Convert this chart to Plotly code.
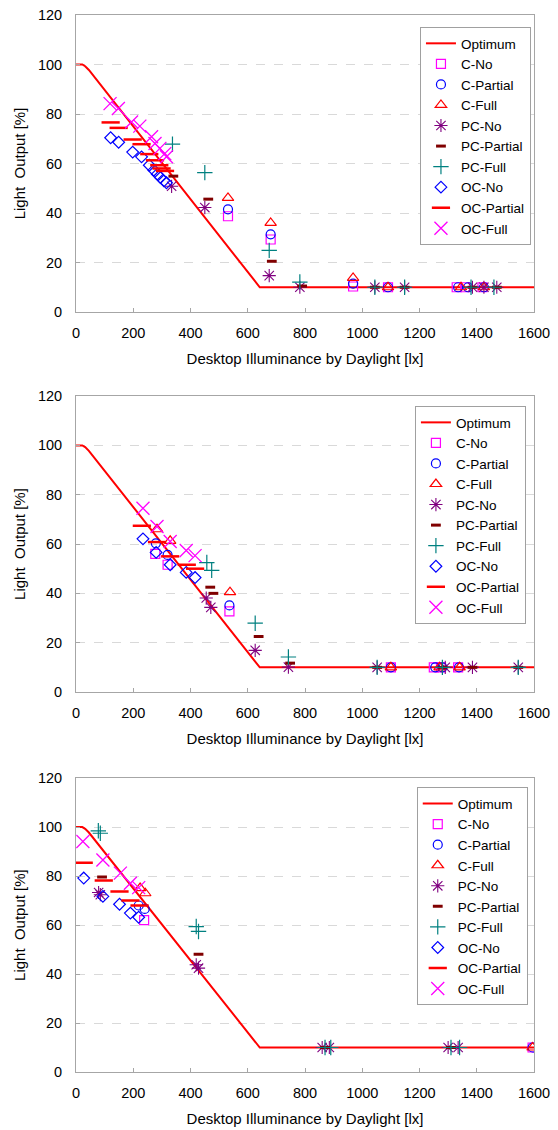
import plotly.graph_objects as go
from plotly.subplots import make_subplots

# ---------------- data ----------------
opt_x = [0, 22, 32, 45, 642, 1600]
opt_y = [100, 100, 99.3, 97.8, 10, 10]

series_names = ["C-No", "C-Partial", "C-Full", "PC-No", "PC-Partial", "PC-Full",
                "OC-No", "OC-Partial", "OC-Full"]

# Panel 1
p1_c_no_x = [531, 680, 968, 1090, 1330, 1360, 1420]
p1_c_no_y = [38.7, 29.3, 10.3, 10, 10, 10, 10]
p1_c_partial_x = [531, 680, 968, 1090, 1335, 1370, 1425]
p1_c_partial_y = [41.5, 31.4, 11.5, 10, 10, 10, 10]
p1_c_full_x = [531, 680, 968, 1090, 1345, 1425]
p1_c_full_y = [46.1, 36.0, 13.8, 10, 10, 10]
p1_pc_no_x = [334, 450, 675, 782, 1044, 1148, 1385, 1425, 1470]
p1_pc_no_y = [50.8, 42.2, 14.7, 10, 10, 10, 10, 10, 10]
p1_pc_partial_x = [340, 462, 684, 790, 1044, 1148, 1385, 1470]
p1_pc_partial_y = [54.9, 45.6, 20.5, 10.5, 10, 10, 10, 10]
p1_pc_full_x = [337, 450, 675, 782, 1044, 1148, 1380, 1460]
p1_pc_full_y = [67.8, 56.3, 24.9, 12.1, 10, 10, 10, 10]
p1_oc_no_x = [121, 149, 198, 229, 256, 272, 284, 295, 307, 316]
p1_oc_no_y = [70.4, 68.6, 64.6, 62.7, 59.3, 57.3, 55.7, 54.3, 53.0, 52.2]
p1_oc_partial_x = [121, 149, 198, 229, 256, 276, 291, 299, 311]
p1_oc_partial_y = [76.6, 74.4, 69.7, 67.8, 63.8, 61.3, 59.3, 58, 57]
p1_oc_full_x = [119, 148, 194, 223, 264, 276, 293, 310, 316]
p1_oc_full_y = [84.2, 82.2, 76.8, 75.1, 70.8, 68.1, 66.1, 64, 62.7]

# Panel 2
p2_c_no_x = [277, 320, 536, 1100, 1250, 1275, 1335]
p2_c_no_y = [56, 51.6, 32.7, 10, 10, 10, 10]
p2_c_partial_x = [279, 320, 536, 1100, 1255, 1280, 1338]
p2_c_partial_y = [60.3, 55.6, 35.1, 10, 10, 10, 10]
p2_c_full_x = [283, 329, 538, 1100, 1270, 1340]
p2_c_full_y = [66, 61.3, 40.5, 10, 10, 10]
p2_pc_no_x = [455, 471, 626, 742, 1052, 1290, 1385, 1545]
p2_pc_no_y = [38.1, 34.3, 16.9, 10.1, 10, 10, 10, 10]
p2_pc_partial_x = [469, 480, 638, 748, 1052, 1280, 1385, 1545]
p2_pc_partial_y = [42.5, 40, 22.5, 11.7, 10, 10, 10, 10]
p2_pc_full_x = [457, 474, 626, 742, 1052, 1280, 1545]
p2_pc_full_y = [52.5, 49.3, 27.9, 14.2, 10, 10, 10]
p2_oc_no_x = [234, 280, 329, 385, 416]
p2_oc_no_y = [62.1, 56.6, 51.6, 48.5, 46.4]
p2_oc_partial_x = [230, 283, 329, 387, 416]
p2_oc_partial_y = [67.4, 60.8, 55, 51.6, 50]
p2_oc_full_x = [234, 283, 329, 385, 416]
p2_oc_full_y = [74.5, 67.1, 61, 57.4, 55.3]

# Panel 3
p3_c_no_x = [238, 1595]
p3_c_no_y = [62, 10]
p3_c_partial_x = [219, 240, 1595]
p3_c_partial_y = [68, 66.6, 10]
p3_c_full_x = [224, 242, 1595]
p3_c_full_y = [75.1, 73, 10]
p3_pc_no_x = [79, 85, 420, 428, 860, 885, 1300, 1335]
p3_pc_no_y = [73.3, 72.4, 43.8, 42.4, 10, 10, 10, 10]
p3_pc_partial_x = [91, 428, 870, 1310]
p3_pc_partial_y = [79.6, 48.1, 10, 10]
p3_pc_full_x = [78, 85, 420, 428, 870, 890, 1310, 1340]
p3_pc_full_y = [98.5, 97.5, 59.4, 57.4, 10, 10, 10, 10]
p3_oc_no_x = [27, 94, 152, 190, 219]
p3_oc_no_y = [79.2, 71.7, 68.5, 64.9, 63.2]
p3_oc_partial_x = [27, 97, 152, 190, 222]
p3_oc_partial_y = [85.5, 78.2, 73.7, 70, 68]
p3_oc_full_x = [24, 94, 155, 190, 219]
p3_oc_full_y = [94.1, 86.6, 81.2, 77.1, 75.3]

x_ticks = [0, 200, 400, 600, 800, 1000, 1200, 1400, 1600]
y_ticks = [0, 20, 40, 60, 80, 100, 120]

panels = [
    [(p1_c_no_x, p1_c_no_y), (p1_c_partial_x, p1_c_partial_y), (p1_c_full_x, p1_c_full_y),
     (p1_pc_no_x, p1_pc_no_y), (p1_pc_partial_x, p1_pc_partial_y), (p1_pc_full_x, p1_pc_full_y),
     (p1_oc_no_x, p1_oc_no_y), (p1_oc_partial_x, p1_oc_partial_y), (p1_oc_full_x, p1_oc_full_y)],
    [(p2_c_no_x, p2_c_no_y), (p2_c_partial_x, p2_c_partial_y), (p2_c_full_x, p2_c_full_y),
     (p2_pc_no_x, p2_pc_no_y), (p2_pc_partial_x, p2_pc_partial_y), (p2_pc_full_x, p2_pc_full_y),
     (p2_oc_no_x, p2_oc_no_y), (p2_oc_partial_x, p2_oc_partial_y), (p2_oc_full_x, p2_oc_full_y)],
    [(p3_c_no_x, p3_c_no_y), (p3_c_partial_x, p3_c_partial_y), (p3_c_full_x, p3_c_full_y),
     (p3_pc_no_x, p3_pc_no_y), (p3_pc_partial_x, p3_pc_partial_y), (p3_pc_full_x, p3_pc_full_y),
     (p3_oc_no_x, p3_oc_no_y), (p3_oc_partial_x, p3_oc_partial_y), (p3_oc_full_x, p3_oc_full_y)],
]

# ---------------- styles ----------------
styles = [
    dict(symbol="square-open", color="#FF00FF", size=9, lw=1.2),
    dict(symbol="circle-open", color="#0000FF", size=9, lw=1.2),
    dict(symbol="triangle-up-open", color="#FF0000", size=10, lw=1.2),
    dict(symbol="asterisk-open", color="#800080", size=11, lw=1.1),
    dict(symbol="line-ew-open", color="#800000", size=7, lw=3),
    dict(symbol="cross-thin-open", color="#008080", size=11, lw=1.2),
    dict(symbol="diamond-open", color="#0000FF", size=9, lw=1.2),
    dict(symbol="line-ew-open", color="#FF0000", size=13, lw=2.5),
    dict(symbol="x-thin-open", color="#FF00FF", size=13, lw=1.3),
]

fig = make_subplots(rows=3, cols=1)

legend_ids = ["legend", "legend2", "legend3"]
for r, pdata in enumerate(panels, start=1):
    lg = legend_ids[r - 1]
    fig.add_trace(go.Scatter(x=opt_x, y=opt_y, mode="lines", name="Optimum",
                             line=dict(color="#FF0000", width=2), legend=lg),
                  row=r, col=1)
    for name, (xs, ys), st in zip(series_names, pdata, styles):
        fig.add_trace(go.Scatter(
            x=xs, y=ys, mode="markers", name=name, legend=lg,
            marker=dict(symbol=st["symbol"], size=st["size"], color=st["color"],
                        line=dict(color=st["color"], width=st["lw"])),
        ), row=r, col=1)

FAM = "Liberation Sans, Arial, sans-serif"
tick_font = dict(family=FAM, size=14.5, color="black")
title_font = dict(family=FAM, size=15, color="black")
legend_font = dict(family=FAM, size=13.5, color="black")
axis_gray = "#A6A6A6"

domains = [[0.719, 1.0], [0.3595, 0.6395], [0.0, 0.278]]
legend_pos = [(0.751, 0.9886), (0.740, 0.630), (0.744, 0.2693)]

for r in range(1, 4):
    fig.update_xaxes(row=r, col=1, range=[0, 1600], tickvals=x_ticks, ticks="inside",
                     ticklen=4, tickcolor=axis_gray, showline=True, linecolor=axis_gray,
                     mirror=True, showgrid=False, zeroline=False, automargin=False,
                     title=dict(text="Desktop Illuminance by Daylight [lx]", font=title_font, standoff=13),
                     tickfont=tick_font, ticklabelstandoff=8)
    fig.update_yaxes(row=r, col=1, range=[0, 120], tickvals=y_ticks, ticks="inside",
                     ticklen=4, tickcolor=axis_gray, showline=True, linecolor=axis_gray,
                     mirror=True, showgrid=True, gridcolor="#D9D9D9", griddash="dash",
                     zeroline=False, domain=domains[r - 1], automargin=False,
                     title=dict(text="Light  Output [%]", font=title_font, standoff=8),
                     tickfont=tick_font, ticklabelstandoff=10)

layout_legends = {}
for i, lg in enumerate(legend_ids):
    lx, ly = legend_pos[i]
    layout_legends[lg] = dict(x=lx, y=ly, xanchor="left", yanchor="top",
                              bgcolor="white", bordercolor="#A0A0A0", borderwidth=1,
                              font=legend_font, tracegroupgap=0, itemwidth=30)

fig.update_layout(
    width=558, height=1130,
    margin=dict(l=76, r=24, t=15, b=58, autoexpand=False),
    paper_bgcolor="white", plot_bgcolor="white",
    font=tick_font,
    showlegend=True,
    **layout_legends,
)

fig.write_html("out.html", config={"displayModeBar": False})

# remove default page margins so the figure sits at the window origin
with open("out.html", "r", encoding="utf-8") as f:
    html = f.read()
html = html.replace("<body>", '<body style="margin:0;padding:0;overflow:hidden">', 1)
with open("out.html", "w", encoding="utf-8") as f:
    f.write(html)
